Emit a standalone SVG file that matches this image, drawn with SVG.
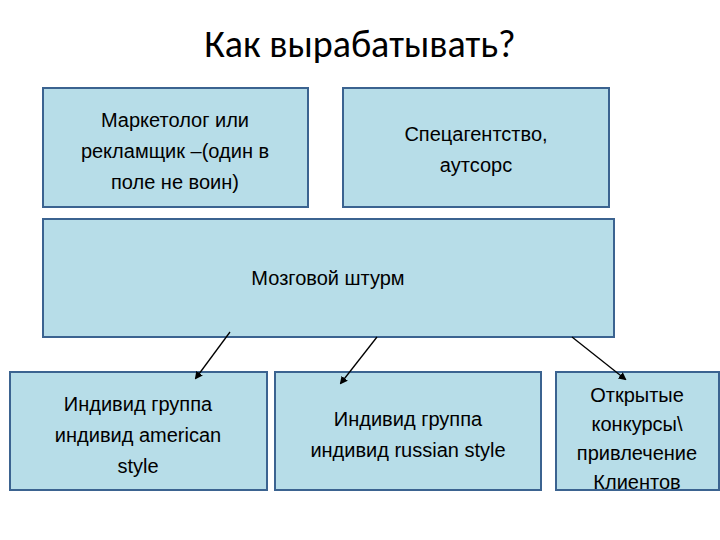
<svg xmlns="http://www.w3.org/2000/svg" width="720" height="540" viewBox="0 0 720 540">
<defs>
<marker id="ah" markerWidth="8" markerHeight="8" refX="6" refY="4" orient="auto" markerUnits="userSpaceOnUse"><path d="M0,0 L8,4 L0,8 Z" fill="#000"/></marker>
<style>
.b{fill:#b7dde8;stroke:#3b6390;stroke-width:2}
.t{font-family:"Liberation Sans",Arial,sans-serif;font-size:20px;fill:#000;text-anchor:middle}
.c{stroke:#000;stroke-width:1.3;fill:none;marker-end:url(#ah)}
</style>
</defs>
<rect width="720" height="540" fill="#fff"/>
<text x="360" y="57" font-family="Calibri,'Open Sans',sans-serif" font-size="38" text-anchor="middle">Как вырабатывать?</text>
<g id="n1"><rect class="b" x="43" y="88" width="265" height="119"/><text class="t" x="175" y="127">Маркетолог или</text><text class="t" x="175" y="158">рекламщик –(один в</text><text class="t" x="175" y="189">поле не воин)</text></g>
<g id="n2"><rect class="b" x="343" y="88" width="266" height="119"/><text class="t" x="476" y="141">Спецагентство,</text><text class="t" x="476" y="172">аутсорс</text></g>
<g id="n3"><rect class="b" x="43" y="219" width="571" height="118"/><text class="t" x="328" y="285">Мозговой штурм</text></g>
<g id="n4"><rect class="b" x="10" y="372" width="257" height="118"/><text class="t" x="138" y="411">Индивид группа</text><text class="t" x="138" y="442">индивид american</text><text class="t" x="138" y="473">style</text></g>
<g id="n5"><rect class="b" x="275" y="372" width="266" height="118"/><text class="t" x="408" y="426">Индивид группа</text><text class="t" x="408" y="457">индивид russian style</text></g>
<g id="n6"><rect class="b" x="556" y="372" width="163" height="118"/><text class="t" x="637" y="402">Открытые</text><text class="t" x="637" y="431">конкурсы\</text><text class="t" x="637" y="460">привлечение</text><text class="t" x="637" y="489">Клиентов</text></g>
<g id="connectors">
<line class="c" x1="230" y1="332" x2="196" y2="378"/>
<line class="c" x1="377" y1="337" x2="341" y2="383"/>
<line class="c" x1="572" y1="337" x2="625" y2="379"/>
</g>
</svg>
